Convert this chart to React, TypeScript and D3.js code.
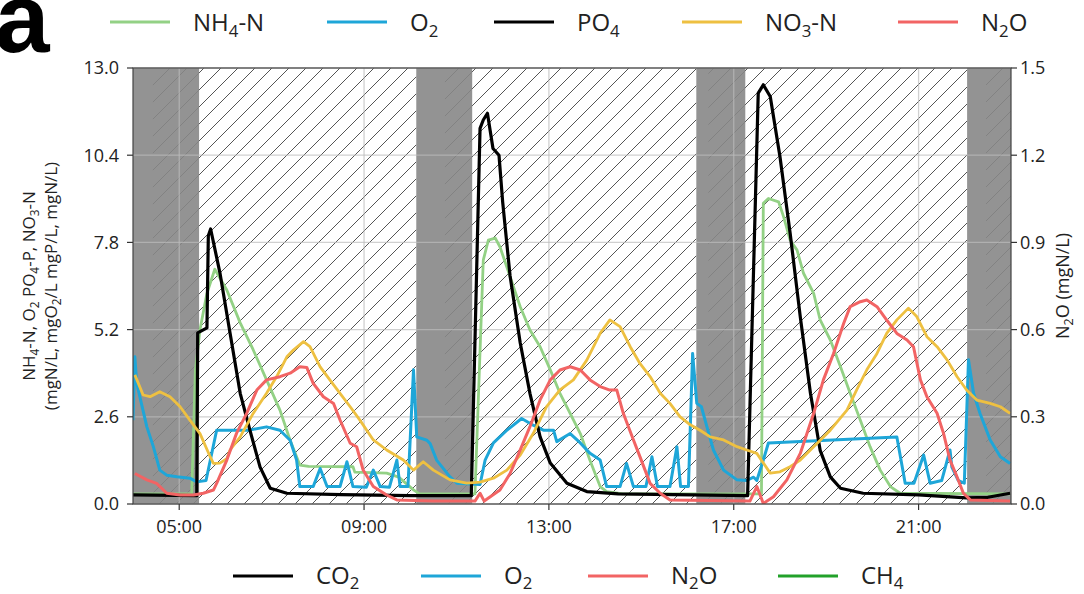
import React from 'react';
import * as d3 from 'd3';

// ---------- data (time in hours, value) ----------
const X_DOMAIN = [4, 23];
const TIME_TICKS = [5, 9, 13, 17, 21];
const LEFT_TICKS = [0, 2.6, 5.2, 7.8, 10.4, 13.0];
const RIGHT_TICKS = [0, 0.3, 0.6, 0.9, 1.2, 1.5];

const GREY_SPANS = [[4.0, 5.43], [10.13, 11.34], [16.19, 17.25], [22.05, 23]];
const HATCH_SPANS = [[4.43, 10.13], [10.75, 16.19], [16.45, 22.05], [22.46, 23]];

const NH4 = [[4.0,0.3],[5.27,0.3],[5.35,4.0],[5.45,5.2],[5.6,6.28],[5.77,7.0],[6.03,6.38],[6.32,5.4],[6.6,4.6],[6.89,3.7],[7.18,2.8],[7.4,1.9],[7.61,1.16],[7.8,1.12],[8.76,1.11],[8.8,0.95],[9.49,0.92],[9.75,0.8],[10.07,0.42],[10.2,0.3],[11.4,0.3],[11.58,7.27],[11.69,7.87],[11.84,7.93],[11.94,7.67],[12.16,6.78],[12.38,5.88],[12.59,5.19],[12.81,4.69],[13.03,4.0],[13.24,3.3],[13.46,2.7],[13.68,2.1],[13.89,1.3],[14.11,0.52],[14.25,0.37],[14.6,0.3],[17.6,0.3],[17.64,8.97],[17.75,9.11],[17.97,9.01],[18.08,8.56],[18.22,7.87],[18.37,7.57],[18.51,6.88],[18.73,6.28],[18.87,5.49],[19.09,4.89],[19.31,4.09],[19.52,3.3],[19.74,2.5],[19.95,1.71],[20.17,1.01],[20.39,0.52],[20.6,0.32],[22.98,0.3]];

const O2 = [[4.0,2.5],[4.04,4.39],[4.08,3.6],[4.3,2.3],[4.44,1.71],[4.58,1.01],[4.73,0.86],[4.95,0.81],[5.23,0.77],[5.38,0.66],[5.58,0.7],[5.81,2.2],[6.5,2.2],[6.89,2.3],[7.18,2.2],[7.4,1.9],[7.54,1.31],[7.61,0.52],[7.9,0.52],[8.05,1.06],[8.2,0.52],[8.48,0.52],[8.63,1.26],[8.76,0.52],[9.05,0.5],[9.2,1.01],[9.35,0.52],[9.55,0.5],[9.71,1.31],[9.78,0.52],[9.95,0.52],[10.07,4.0],[10.14,2.0],[10.36,1.9],[10.43,1.8],[10.57,1.31],[10.86,0.81],[11.01,0.62],[11.51,0.58],[11.62,1.31],[11.8,1.82],[12.09,2.2],[12.41,2.55],[12.66,2.35],[12.88,2.2],[13.1,2.2],[13.17,1.86],[13.46,2.1],[13.68,1.82],[13.89,1.51],[14.11,1.31],[14.25,0.52],[14.54,0.52],[14.68,1.21],[14.83,0.52],[15.1,0.52],[15.23,1.41],[15.35,0.52],[15.62,0.52],[15.77,1.71],[15.85,0.52],[16.02,0.52],[16.11,4.49],[16.2,3.0],[16.3,2.9],[16.42,2.3],[16.56,1.61],[16.78,1.01],[17.07,0.72],[17.28,0.7],[17.43,0.8],[17.5,0.7],[17.64,1.31],[17.75,1.82],[20.53,2.0],[20.71,0.62],[20.9,0.62],[21.11,1.46],[21.25,0.62],[21.5,0.7],[21.68,1.61],[21.72,1.1],[21.86,0.7],[21.99,0.62],[22.08,4.3],[22.19,3.3],[22.33,2.7],[22.55,1.91],[22.77,1.41],[22.98,1.21]];

const PO4 = [[4.0,0.27],[5.38,0.25],[5.4,5.1],[5.6,5.25],[5.63,8.0],[5.68,8.2],[5.88,6.9],[6.1,5.1],[6.32,3.3],[6.53,2.2],[6.75,1.1],[6.97,0.47],[7.33,0.32],[8.5,0.28],[10.0,0.25],[11.32,0.25],[11.51,11.2],[11.58,11.45],[11.67,11.65],[11.79,10.6],[11.92,10.4],[12.0,9.0],[12.16,6.8],[12.38,4.8],[12.59,3.3],[12.81,2.0],[13.03,1.22],[13.39,0.62],[13.82,0.37],[14.5,0.3],[17.3,0.25],[17.53,12.25],[17.64,12.5],[17.79,12.15],[18.0,10.36],[18.22,8.08],[18.44,5.58],[18.66,3.3],[18.87,1.6],[19.09,0.81],[19.31,0.47],[19.8,0.32],[21.0,0.27],[22.04,0.18],[22.5,0.2],[22.98,0.32]];

const NO3 = [[4.04,3.85],[4.22,3.25],[4.37,3.2],[4.58,3.35],[4.8,3.2],[5.02,2.9],[5.23,2.5],[5.45,2.1],[5.67,1.41],[5.74,1.21],[5.88,1.22],[6.03,1.35],[6.1,1.61],[6.32,2.0],[6.6,2.7],[6.89,3.3],[7.11,3.8],[7.33,4.39],[7.47,4.59],[7.69,4.84],[7.83,4.69],[8.05,4.09],[8.26,3.7],[8.48,3.3],[8.7,2.9],[8.91,2.5],[9.2,1.91],[9.49,1.61],[9.85,1.31],[10.07,1.01],[10.28,1.26],[10.5,1.01],[10.86,0.72],[11.22,0.62],[11.51,0.65],[11.8,0.77],[12.09,1.01],[12.38,1.46],[12.66,2.1],[12.95,2.9],[13.24,3.4],[13.53,3.7],[13.82,4.29],[14.11,5.09],[14.32,5.49],[14.54,5.29],[14.76,4.69],[14.97,4.19],[15.19,3.8],[15.41,3.3],[15.62,3.0],[15.84,2.6],[16.06,2.36],[16.27,2.2],[16.49,2.0],[16.78,1.91],[17.07,1.71],[17.28,1.61],[17.5,1.51],[17.79,0.92],[18.0,0.96],[18.22,1.11],[18.44,1.31],[18.73,1.71],[19.09,2.2],[19.45,2.8],[19.66,3.4],[19.88,4.0],[20.1,4.49],[20.31,5.09],[20.53,5.49],[20.78,5.84],[20.96,5.59],[21.18,4.99],[21.4,4.69],[21.62,4.29],[21.83,3.8],[22.04,3.4],[22.26,3.1],[22.55,3.0],[22.77,2.9],[22.98,2.7]];

const N2O = [[4.04,0.105],[4.3,0.083],[4.51,0.071],[4.73,0.037],[5.02,0.031],[5.31,0.031],[5.52,0.037],[5.74,0.048],[5.81,0.071],[6.03,0.151],[6.24,0.243],[6.46,0.312],[6.68,0.392],[6.89,0.427],[7.18,0.438],[7.4,0.45],[7.61,0.472],[7.76,0.47],[7.9,0.415],[8.12,0.369],[8.34,0.346],[8.48,0.289],[8.7,0.209],[8.84,0.197],[8.98,0.117],[9.2,0.06],[9.49,0.031],[9.71,0.014],[10.5,0.01],[11.4,0.01],[11.51,0.037],[11.6,0.01],[11.94,0.048],[12.16,0.105],[12.38,0.186],[12.59,0.266],[12.81,0.358],[13.03,0.427],[13.24,0.461],[13.46,0.472],[13.68,0.461],[13.89,0.427],[14.11,0.404],[14.32,0.392],[14.47,0.392],[14.61,0.312],[14.83,0.22],[14.97,0.163],[15.19,0.071],[15.41,0.037],[15.62,0.014],[17.35,0.01],[17.5,0.06],[17.64,0.002],[17.86,0.025],[18.15,0.083],[18.44,0.174],[18.73,0.312],[18.94,0.427],[19.16,0.518],[19.38,0.622],[19.52,0.679],[19.74,0.696],[19.88,0.702],[20.1,0.679],[20.31,0.633],[20.53,0.587],[20.75,0.564],[20.89,0.541],[21.04,0.427],[21.18,0.369],[21.4,0.312],[21.54,0.243],[21.68,0.151],[21.83,0.094],[21.97,0.037],[22.12,0.014],[22.98,0.01]];

const C_NH4 = '#93d185';
const C_O2 = '#1ea6d8';
const C_PO4 = '#000000';
const C_NO3 = '#eec041';
const C_N2O = '#f26464';
const C_CH4 = '#22a12a';

const TOP_LEGEND = [
  { parts: [['NH', 0], ['4', 1], ['-N', 0]], color: C_NH4 },
  { parts: [['O', 0], ['2', 1]], color: C_O2 },
  { parts: [['PO', 0], ['4', 1]], color: C_PO4 },
  { parts: [['NO', 0], ['3', 1], ['-N', 0]], color: C_NO3 },
  { parts: [['N', 0], ['2', 1], ['O', 0]], color: C_N2O },
];
const BOTTOM_LEGEND = [
  { parts: [['CO', 0], ['2', 1]], color: C_PO4 },
  { parts: [['O', 0], ['2', 1]], color: C_O2 },
  { parts: [['N', 0], ['2', 1], ['O', 0]], color: C_N2O },
  { parts: [['CH', 0], ['4', 1]], color: C_CH4 },
];
const TOP_LEGEND_X = [110, 327, 494, 682, 898];
const BOTTOM_LEGEND_X = [233, 421, 588, 778];

const LEFT_TITLE_1 = [['NH', 0], ['4', 1], ['-N, O', 0], ['2', 1], [' PO', 0], ['4', 1], ['-P, NO', 0], ['3', 1], ['-N', 0]];
const LEFT_TITLE_2 = [['(mgN/L, mgO', 0], ['2', 1], ['/L mgP/L, mgN/L)', 0]];
const RIGHT_TITLE = [['N', 0], ['2', 1], ['O (mgN/L)', 0]];

const FONT = "'Open Sans', 'DejaVu Sans', sans-serif";

function Parts({ parts, sub = 5 }) {
  const out = [];
  let shift = 0;
  parts.forEach((p, i) => {
    const isSub = p[1] === 1;
    const target = isSub ? sub : 0;
    const dy = target - shift;
    shift = target;
    out.push(
      <tspan key={i} dy={dy} fontSize={isSub ? '0.7em' : undefined}>{p[0]}</tspan>
    );
  });
  return <>{out}</>;
}

const fmtHour = (h) => `${String(h).padStart(2, '0')}:00`;

export default function App() {
  const W = 1084, H = 594;
  const L = 133, R = 1011, T = 68, B = 504;
  const x = d3.scaleLinear().domain(X_DOMAIN).range([L, R]);
  const yL = d3.scaleLinear().domain([0, 13]).range([B, T]);
  const yR = d3.scaleLinear().domain([0, 1.5]).range([B, T]);
  const lineL = d3.line().x((d) => x(d[0])).y((d) => yL(d[1]));
  const lineR = d3.line().x((d) => x(d[0])).y((d) => yR(d[1]));
  const midY = (T + B) / 2;
  const HS = 17;

  return (
    <svg width={W} height={H} style={{ position: 'absolute', left: 0, top: 0, background: '#fff' }} fontFamily={FONT}>
      <defs>
        <pattern id="hatch" patternUnits="userSpaceOnUse" width={HS} height={HS}>
          <path d={`M-2,2 L2,-2 M0,${HS} L${HS},0 M${HS - 2},${HS + 2} L${HS + 2},${HS - 2}`} stroke="#555" strokeWidth="1" />
        </pattern>
        <clipPath id="plotclip">
          <rect x={L} y={T} width={R - L} height={B - T} />
        </clipPath>
      </defs>

      {/* panel letter */}
      <text x={-5} y={52} fontFamily="'Liberation Sans', Arial, sans-serif" fontWeight="bold" fontSize={98} fill="#000">a</text>

      {/* background */}
      <rect x={L} y={T} width={R - L} height={B - T} fill="#fff" />
      {HATCH_SPANS.map((s, i) => (
        <rect key={'h' + i} x={x(s[0])} y={T} width={x(s[1]) - x(s[0])} height={B - T} fill="url(#hatch)" />
      ))}
      {GREY_SPANS.map((s, i) => (
        <rect key={'g' + i} x={x(s[0])} y={T} width={x(s[1]) - x(s[0])} height={B - T} fill="#878787" fillOpacity={0.9} />
      ))}

      {/* grid */}
      {LEFT_TICKS.map((t, i) => (
        <line key={'gy' + i} x1={L} x2={R} y1={yL(t)} y2={yL(t)} stroke="#bcbcbc" strokeOpacity={0.7} strokeWidth={1.3} />
      ))}
      {TIME_TICKS.map((t, i) => (
        <line key={'gx' + i} x1={x(t)} x2={x(t)} y1={T} y2={B} stroke="#bcbcbc" strokeOpacity={0.7} strokeWidth={1.3} />
      ))}

      {/* series */}
      <g clipPath="url(#plotclip)" fill="none" strokeLinejoin="round">
        <path d={lineL(NH4)} stroke={C_NH4} strokeWidth={2.8} />
        <path d={lineL(O2)} stroke={C_O2} strokeWidth={3} />
        <path d={lineL(PO4)} stroke={C_PO4} strokeWidth={3.2} />
        <path d={lineL(NO3)} stroke={C_NO3} strokeWidth={2.8} />
        <path d={lineR(N2O)} stroke={C_N2O} strokeWidth={3} />
      </g>

      {/* frame */}
      <rect x={L} y={T} width={R - L} height={B - T} fill="none" stroke="#444" strokeWidth={1.2} />

      {/* left axis */}
      {LEFT_TICKS.map((t, i) => (
        <g key={'lt' + i}>
          <line x1={L - 6} x2={L} y1={yL(t)} y2={yL(t)} stroke="#333" strokeWidth={1.2} />
          <text x={L - 14} y={yL(t)} dy="0.36em" textAnchor="end" fontSize={18} fill="#222">{t.toFixed(1)}</text>
        </g>
      ))}
      {/* right axis */}
      {RIGHT_TICKS.map((t, i) => (
        <g key={'rt' + i}>
          <line x1={R} x2={R + 6} y1={yR(t)} y2={yR(t)} stroke="#333" strokeWidth={1.2} />
          <text x={R + 9} y={yR(t)} dy="0.36em" textAnchor="start" fontSize={18} fill="#222">{t.toFixed(1)}</text>
        </g>
      ))}
      {/* bottom axis */}
      {TIME_TICKS.map((t, i) => (
        <g key={'bt' + i}>
          <line x1={x(t)} x2={x(t)} y1={B} y2={B + 6} stroke="#333" strokeWidth={1.2} />
          <text x={x(t)} y={B + 29} textAnchor="middle" fontSize={18} fill="#222">{fmtHour(t)}</text>
        </g>
      ))}

      {/* axis titles */}
      <text transform={`translate(35,${midY}) rotate(-90)`} textAnchor="middle" fontSize={17} fill="#222" dy="0.35em">
        <Parts parts={LEFT_TITLE_1} sub={4} />
      </text>
      <text transform={`translate(57,${midY}) rotate(-90)`} textAnchor="middle" fontSize={17} fill="#222" dy="0.35em">
        <Parts parts={LEFT_TITLE_2} sub={4} />
      </text>
      <text transform={`translate(1069,${midY}) rotate(-90)`} textAnchor="middle" fontSize={18} fill="#222" dy="0.35em">
        <Parts parts={RIGHT_TITLE} sub={4} />
      </text>

      {/* top legend */}
      {TOP_LEGEND.map((it, i) => (
        <g key={'tl' + i}>
          <line x1={TOP_LEGEND_X[i]} x2={TOP_LEGEND_X[i] + 60} y1={22} y2={22} stroke={it.color} strokeWidth={3} />
          <text x={TOP_LEGEND_X[i] + 83} y={31} fontSize={24} fill="#222"><Parts parts={it.parts} sub={6} /></text>
        </g>
      ))}

      {/* bottom legend */}
      {BOTTOM_LEGEND.map((it, i) => (
        <g key={'bl' + i}>
          <line x1={BOTTOM_LEGEND_X[i]} x2={BOTTOM_LEGEND_X[i] + 60} y1={576} y2={576} stroke={it.color} strokeWidth={3} />
          <text x={BOTTOM_LEGEND_X[i] + 83} y={584} fontSize={24} fill="#222"><Parts parts={it.parts} sub={5} /></text>
        </g>
      ))}
    </svg>
  );
}
